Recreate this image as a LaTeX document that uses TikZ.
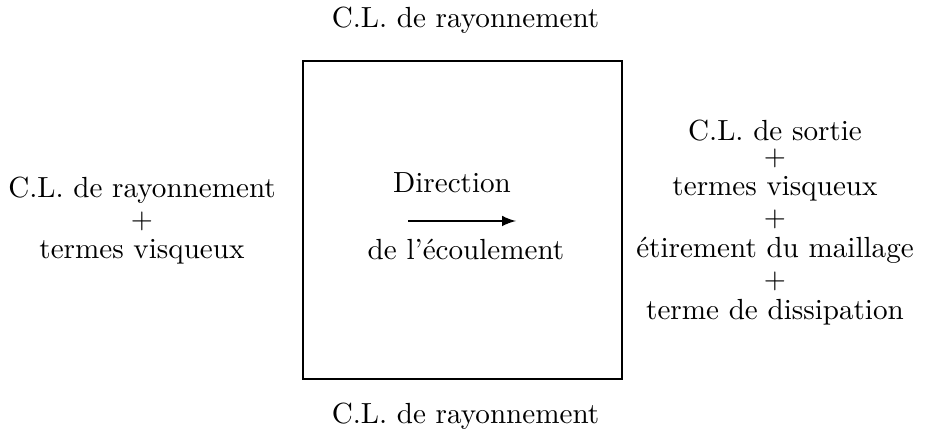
\documentclass[tikz,border=0pt]{standalone}
\usepackage{amsmath}
\usetikzlibrary{arrows.meta, positioning}

\begin{document}
\begin{tikzpicture}[x=0.352pt, y=-0.352pt, every node/.style={inner sep=0pt, font=\fontsize{10.25}{12.3}\selectfont}]
          \useasboundingbox (0,0) rectangle (929,440);
          % Domaine de calcul
          \node[draw, line width=0.85pt, minimum width=112.3pt, minimum height=111.9pt] (domaine) at (462.5,220) {};
          % Conditions aux limites
          \node[anchor=base] (haut) at (465.5,28) {C.L. de rayonnement};
          \node[anchor=base] (bas) at (465.5,424) {C.L. de rayonnement};
          \node[anchor=base] (gauche) at (142,259) {\shortstack{C.L. de rayonnement\\$+$\\termes visqueux}};
          \node[anchor=base] (droite) at (775,320) {\shortstack{C.L. de sortie\\$+$\\termes visqueux\\$+$\\étirement du maillage\\$+$\\terme de dissipation}};
          % Sens de l'ecoulement
          \node[anchor=base] (direction) at (452,193) {Direction};
          \node[anchor=base] (ecoulement) at (466,260) {de l'écoulement};
          \coordinate (fleche-a) at (408,221);
          \coordinate (fleche-b) at (516,221);
          \draw[line width=0.7pt, -latex] (fleche-a) -- (fleche-b);
        \end{tikzpicture}
\end{document}
